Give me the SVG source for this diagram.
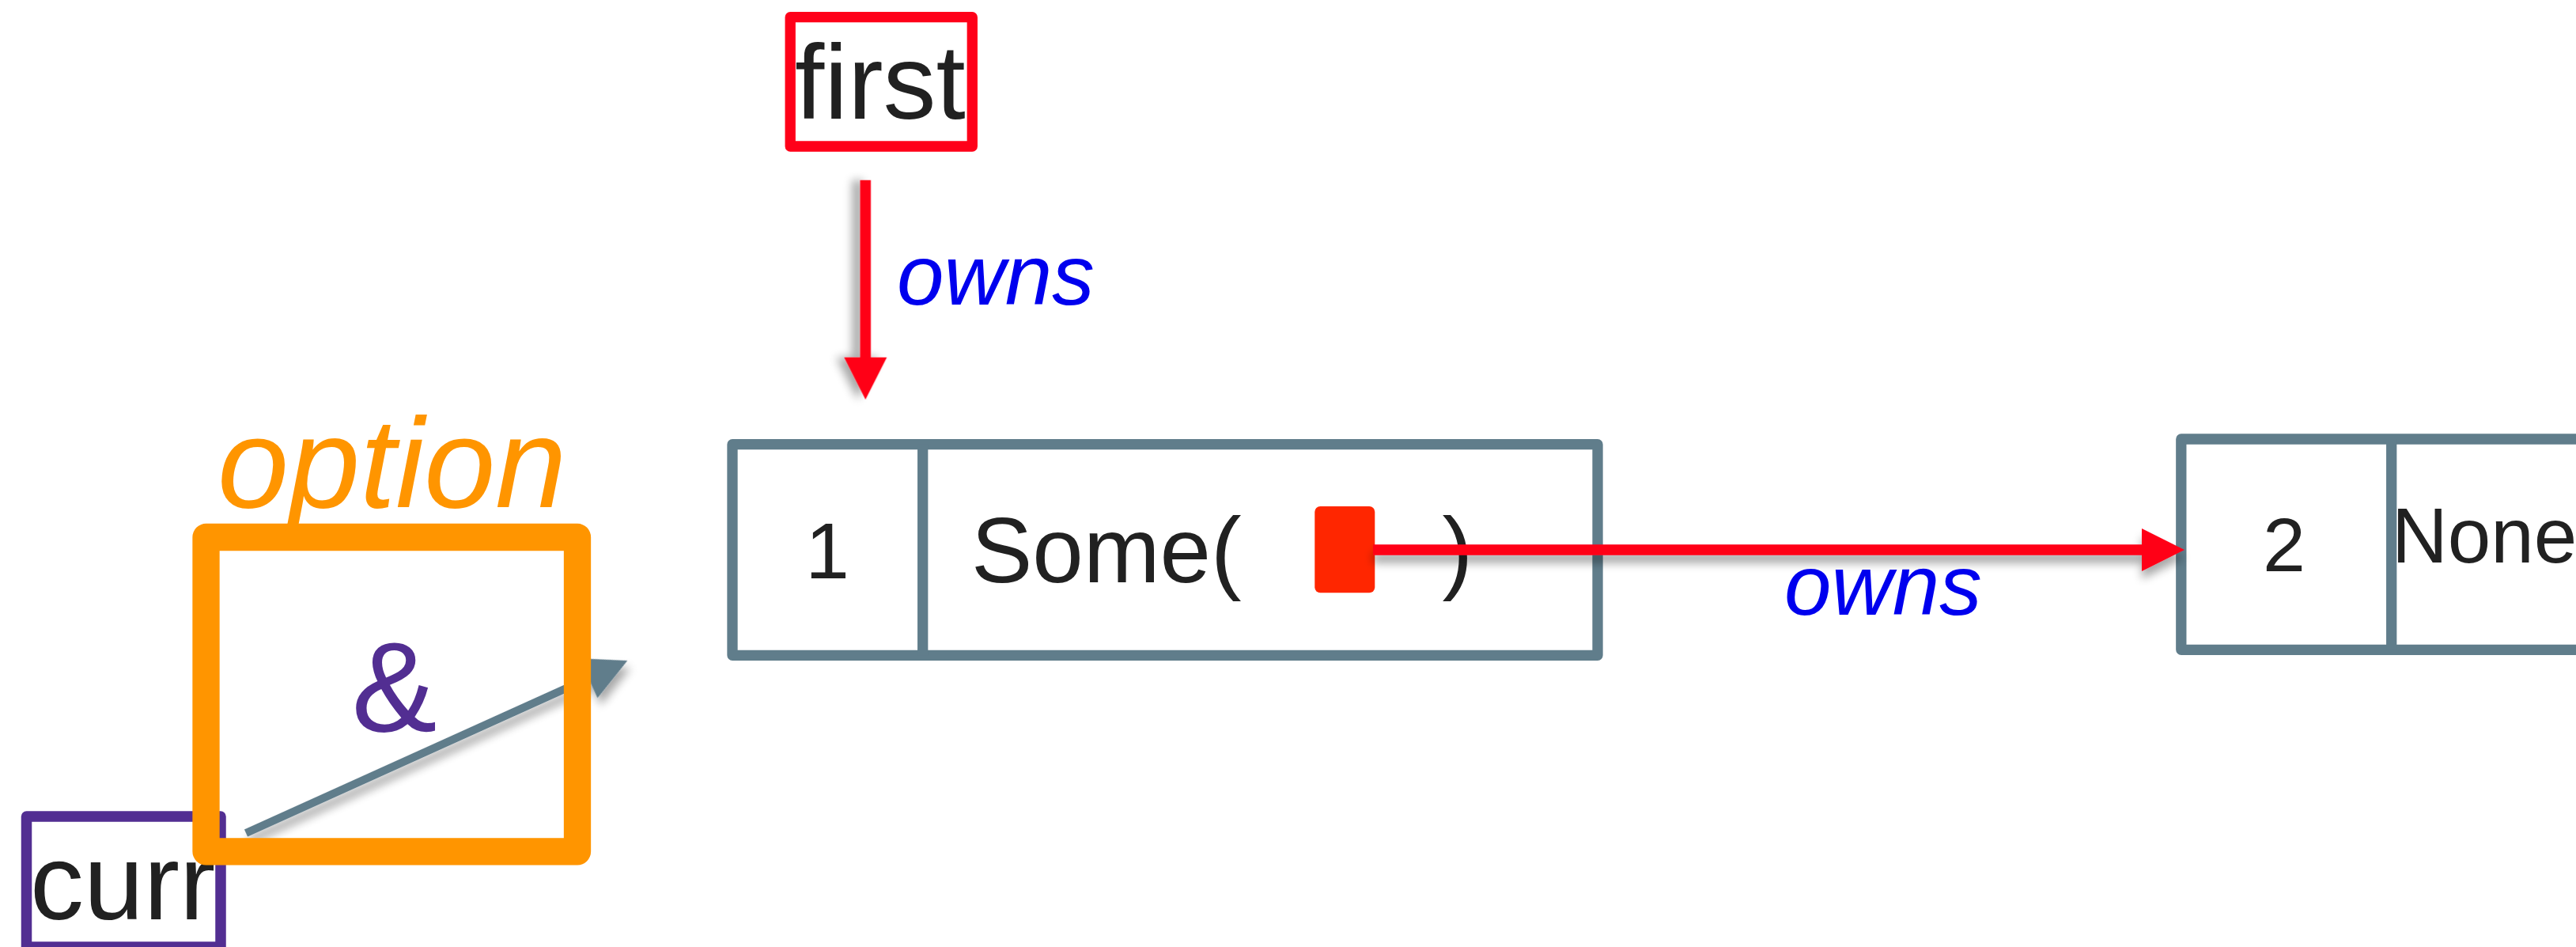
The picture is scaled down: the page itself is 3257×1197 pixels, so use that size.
<svg xmlns="http://www.w3.org/2000/svg" width="3257" height="1197" viewBox="0 0 3257 1197">
  <style>
    .cell { fill: #ffffff; stroke: #607d8b; stroke-width: 13.3; stroke-linejoin: round; }
    .div { stroke: #607d8b; stroke-width: 13.3; }
    .txt { font-family: "Liberation Sans", Arial, sans-serif; fill: #212121; }
    .lbl { font-family: "Liberation Sans", Arial, sans-serif; font-style: italic; fill: #0000ee; font-size: 107px; }
    .own { stroke: #ff0019; stroke-width: 13.3; fill: none; }
    .ownhead { fill: #ff0019; }
    .ref { stroke: #607d8b; stroke-width: 10; fill: none; }
    .refhead { fill: #607d8b; }
  </style>
  <defs>
    <!-- soft drop shadow, offset in each arrow's own frame -->
    <filter id="shadow" x="-10%" y="-100%" width="120%" height="300%">
      <feGaussianBlur in="SourceAlpha" stdDeviation="6"/>
      <feOffset dx="0" dy="10" result="blur"/>
      <feComponentTransfer><feFuncA type="linear" slope="0.35"/></feComponentTransfer>
      <feMerge><feMergeNode/><feMergeNode in="SourceGraphic"/></feMerge>
    </filter>
  </defs>

  <rect width="3257" height="1197" fill="#ffffff"/>

  <!-- variable "first" -->
  <g id="first">
    <rect x="999.2" y="21.7" width="230.1" height="163.3" fill="#ffffff" stroke="#ff0019" stroke-width="13.3" stroke-linejoin="round"/>
    <text class="txt" x="1005" y="150" font-size="134">first</text>
  </g>

  <!-- list node 1 -->
  <g id="node1">
    <rect class="cell" x="926" y="561.7" width="1094" height="266.6"/>
    <line class="div" x1="1166.7" y1="561.7" x2="1166.7" y2="828.3"/>
    <text class="txt" x="1046" y="730.7" font-size="100" text-anchor="middle">1</text>
    <text class="txt" x="1228" y="736" font-size="116">Some(</text>
    <rect x="1662.3" y="640" width="76" height="109.3" rx="7" fill="#ff2600"/>
    <text class="txt" x="1823.5" y="736" font-size="116">)</text>
  </g>

  <!-- list node 2 -->
  <g id="node2">
    <rect class="cell" x="2757.8" y="555" width="600" height="266.3"/>
    <line class="div" x1="3023.7" y1="555" x2="3023.7" y2="821.3"/>
    <text class="txt" x="2888" y="722.3" font-size="97" text-anchor="middle">2</text>
    <text class="txt" x="3024" y="710.7" font-size="98">None</text>
  </g>

  <!-- connectors -->
  <g id="connectors">
    <!-- first owns node 1 -->
    <g transform="translate(1094.3 227.7) rotate(90)" filter="url(#shadow)">
      <line class="own" x1="0" y1="0" x2="226" y2="0"/>
      <polygon class="ownhead" points="224,-27 277.3,0 224,27"/>
    </g>
    <!-- node 1 owns node 2 -->
    <g transform="translate(1736 695)" filter="url(#shadow)">
      <line class="own" x1="0" y1="0" x2="974" y2="0"/>
      <polygon class="ownhead" points="972,-27 1026,0 972,27"/>
    </g>
    <!-- curr refers into node 1 -->
    <g transform="translate(311 1053) rotate(-24.32)" filter="url(#shadow)">
      <line class="ref" x1="0" y1="0" x2="478" y2="0"/>
      <polygon class="refhead" points="475.3,-27.6 529.3,0 475.3,27.6"/>
    </g>
  </g>

  <text class="lbl" x="1134" y="385">owns</text>
  <text class="lbl" x="2256" y="777.3">owns</text>

  <!-- variable "curr" -->
  <g id="curr">
    <rect x="33.5" y="1032" width="245.5" height="165" fill="#ffffff" stroke="#522e92" stroke-width="13.5" stroke-linejoin="round"/>
    <text class="txt" x="38" y="1161.7" font-size="136">curr</text>
  </g>

  <!-- option wrapper holding the reference -->
  <g id="option">
    <rect x="260.5" y="679" width="469.5" height="397.3" fill="none" stroke="#ff9500" stroke-width="34.3" stroke-linejoin="round"/>
    <text x="275" y="640.7" font-family="Liberation Sans, Arial, sans-serif" font-style="italic" font-size="162" fill="#ff9500">option</text>
    <text x="498.5" y="924" font-family="Liberation Sans, Arial, sans-serif" font-size="162" fill="#522e92" text-anchor="middle">&amp;</text>
  </g>
</svg>
